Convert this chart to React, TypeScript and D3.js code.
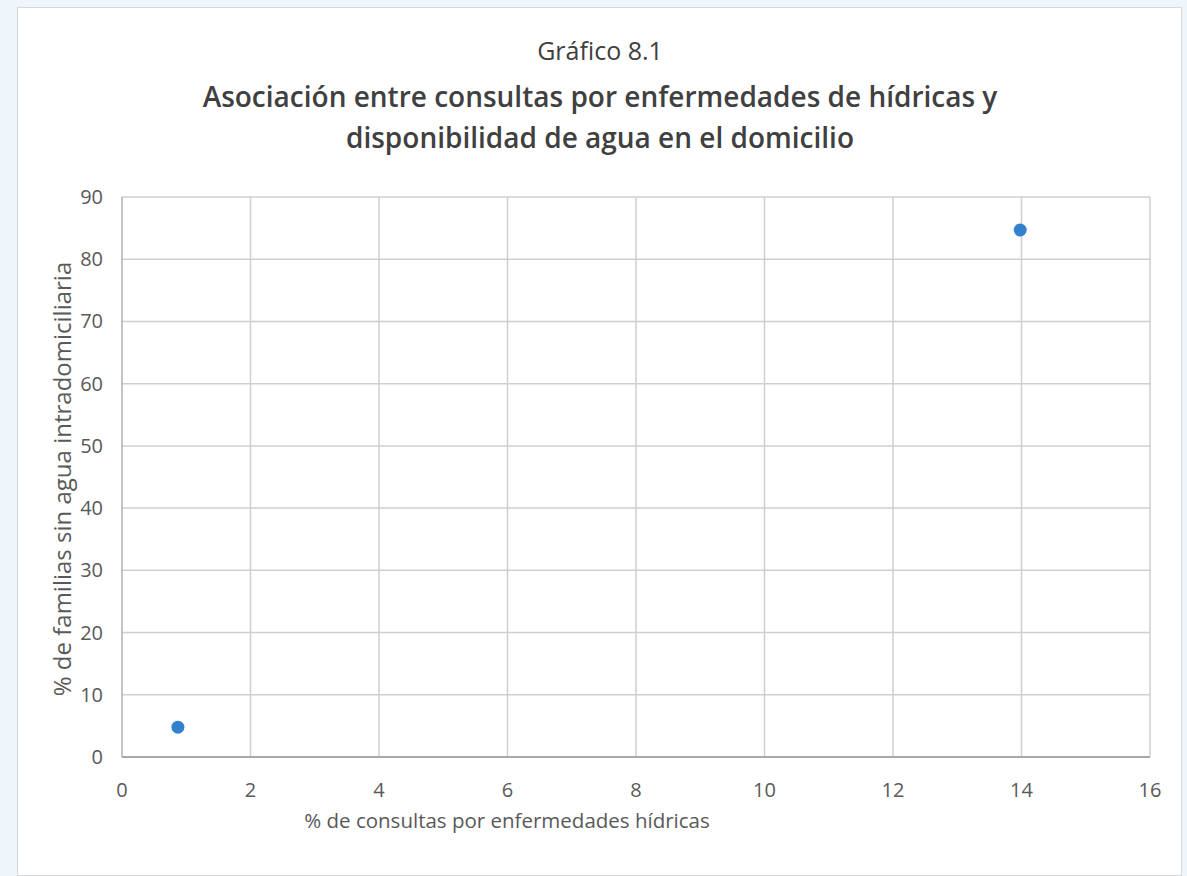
import React, { useRef, useEffect } from 'react';
import * as d3 from 'd3';

// values
const xValues = [0.87, 13.98];
const yValues = [4.8, 84.7];
const xTicks = [0, 2, 4, 6, 8, 10, 12, 14, 16];
const yTicks = [0, 10, 20, 30, 40, 50, 60, 70, 80, 90];

const titleLines = [
  'Gráfico 8.1',
  'Asociación entre consultas por enfermedades de hídricas y',
  'disponibilidad de agua en el domicilio',
];
const xTitle = '% de consultas por enfermedades hídricas';
const yTitle = '% de familias sin agua intradomiciliaria';

const W = 1187;
const H = 876;

export default function App() {
  const svgRef = useRef<SVGSVGElement>(null);

  useEffect(() => {
    if (!svgRef.current) return;
    const svg = d3.select(svgRef.current);
    svg.selectAll('*').remove();

    const font = "'Open Sans', 'DejaVu Sans', sans-serif";
    const plot = { left: 122, right: 1150, top: 197, bottom: 757 };

    // page background + chart frame
    svg.append('rect').attr('width', W).attr('height', H).attr('fill', '#eef5fb');
    svg.append('rect')
      .attr('x', 17.5).attr('y', 7.5)
      .attr('width', 1164).attr('height', 868)
      .attr('fill', '#ffffff')
      .attr('stroke', '#d6d9dc');

    const x = d3.scaleLinear().domain([0, 16]).range([plot.left, plot.right]);
    const y = d3.scaleLinear().domain([0, 90]).range([plot.bottom, plot.top]);

    // gridlines
    const grid = svg.append('g');
    grid.selectAll('line.v')
      .data(xTicks.slice(1))
      .join('line')
      .attr('x1', d => x(d)).attr('x2', d => x(d))
      .attr('y1', plot.top).attr('y2', plot.bottom)
      .attr('stroke', '#cfcfcf').attr('stroke-width', 1.5);
    grid.selectAll('line.h')
      .data(yTicks.slice(1))
      .join('line')
      .attr('x1', plot.left).attr('x2', plot.right)
      .attr('y1', d => y(d)).attr('y2', d => y(d))
      .attr('stroke', '#cfcfcf').attr('stroke-width', 1.5);

    // axis lines
    svg.append('line')
      .attr('x1', plot.left).attr('x2', plot.left)
      .attr('y1', plot.top).attr('y2', plot.bottom)
      .attr('stroke', '#b0b0b0').attr('stroke-width', 1.5);
    svg.append('line')
      .attr('x1', plot.left).attr('x2', plot.right)
      .attr('y1', plot.bottom).attr('y2', plot.bottom)
      .attr('stroke', '#a8a8a8').attr('stroke-width', 2);

    // tick labels
    svg.append('g').selectAll('text')
      .data(yTicks)
      .join('text')
      .attr('x', 103)
      .attr('y', d => y(d))
      .attr('dy', '0.35em')
      .attr('text-anchor', 'end')
      .attr('fill', '#595959')
      .style('font-family', font)
      .style('font-size', '20px')
      .text(d => d);

    svg.append('g').selectAll('text')
      .data(xTicks)
      .join('text')
      .attr('x', d => x(d))
      .attr('y', 790)
      .attr('dy', '0.35em')
      .attr('text-anchor', 'middle')
      .attr('fill', '#595959')
      .style('font-family', font)
      .style('font-size', '20px')
      .text(d => d);

    // axis titles
    svg.append('text')
      .attr('x', 507).attr('y', 821)
      .attr('dy', '0.35em')
      .attr('text-anchor', 'middle')
      .attr('fill', '#595959')
      .style('font-family', font)
      .style('font-size', '20.5px')
      .text(xTitle);

    svg.append('text')
      .attr('transform', 'translate(63,479) rotate(-90)')
      .attr('dy', '0.35em')
      .attr('text-anchor', 'middle')
      .attr('fill', '#595959')
      .style('font-family', font)
      .style('font-size', '24px')
      .text(yTitle);

    // title
    svg.append('text')
      .attr('x', 600).attr('y', 60)
      .attr('text-anchor', 'middle')
      .attr('fill', '#404040')
      .style('font-family', font)
      .style('font-size', '25px')
      .text(titleLines[0]);
    svg.append('text')
      .attr('x', 600).attr('y', 107)
      .attr('text-anchor', 'middle')
      .attr('fill', '#404040')
      .style('font-family', font)
      .style('font-weight', 600)
      .style('font-size', '28px')
      .text(titleLines[1]);
    svg.append('text')
      .attr('x', 600).attr('y', 148)
      .attr('text-anchor', 'middle')
      .attr('fill', '#404040')
      .style('font-family', font)
      .style('font-weight', 600)
      .style('font-size', '28px')
      .text(titleLines[2]);

    // points
    svg.append('g').selectAll('circle')
      .data(xValues.map((v, i) => [v, yValues[i]]))
      .join('circle')
      .attr('cx', d => x(d[0]))
      .attr('cy', d => y(d[1]))
      .attr('r', 6.5)
      .attr('fill', '#3281cf');
  }, []);

  return (
    <div style={{ position: 'absolute', left: 0, top: 0, width: W, height: H }}>
      <svg ref={svgRef} width={W} height={H} style={{ display: 'block' }} />
    </div>
  );
}
